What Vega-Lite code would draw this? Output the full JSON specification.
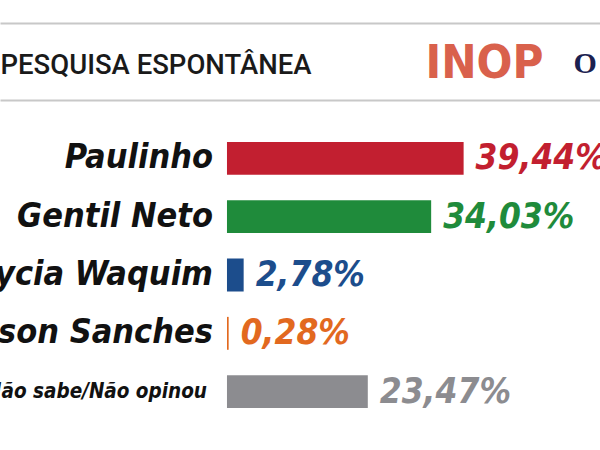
{
  "$schema": "https://vega.github.io/schema/vega-lite/v6.json",
  "width": 600,
  "height": 350,
  "autosize": {"type": "none"},
  "padding": {"left": 0, "top": 100, "right": 0, "bottom": 0},
  "background": "white",
  "config": {"view": {"stroke": null}},
  "data": {"values": [
    {"nome": "Paulinho", "valor": 39.44, "rotulo": "39,44%"},
    {"nome": "Gentil Neto", "valor": 34.03, "rotulo": "34,03%"},
    {"nome": "Lycia Waquim", "valor": 2.78, "rotulo": "2,78%"},
    {"nome": "Nilson Sanches", "valor": 0.28, "rotulo": "0,28%"},
    {"nome": "Não sabe/Não opinou", "valor": 23.47, "rotulo": "23,47%"}
  ]},
  "encoding": {
    "y": {"field": "nome", "type": "nominal", "sort": null, "scale": {"paddingInner": 0.436, "paddingOuter": 0.718}, "axis": null},
    "color": {"field": "nome", "type": "nominal", "legend": null,
      "scale": {"domain": ["Paulinho", "Gentil Neto", "Lycia Waquim", "Nilson Sanches", "Não sabe/Não opinou"],
                "range": ["#c21f30", "#1f8b3b", "#1c4d8c", "#e2691f", "#8c8c90"]}}
  },
  "layer": [
    {
      "mark": {"type": "bar"},
      "encoding": {
        "x": {"field": "valor", "type": "quantitative",
          "scale": {"domain": [-37.83, 62.17], "nice": false, "zero": false},
          "axis": {"orient": "top", "offset": 0, "domain": true, "domainColor": "#c8c8c8", "domainWidth": 2,
            "labels": false, "ticks": false, "grid": false,
            "title": "PESQUISA ESPONTÂNEA", "titleX": 0, "titleY": -27, "titleAlign": "left", "titleBaseline": "alphabetic", "titleAngle": 0,
            "titleFont": "Roboto", "titleFontSize": 27.5, "titleFontWeight": 500, "titleColor": "#1a1a1a"}}
      }
    },
    {
      "mark": {"type": "text", "align": "left", "baseline": "middle", "dx": 12, "font": "DejaVu Sans Condensed", "fontWeight": "bold", "fontStyle": "italic", "fontSize": 35},
      "encoding": {
        "x": {"field": "valor", "type": "quantitative",
          "axis": {"orient": "top", "offset": 77, "domain": true, "domainColor": "#c8c8c8", "domainWidth": 2,
            "labels": false, "ticks": false, "grid": false,
            "title": "INOP", "titleX": 425, "titleY": 54, "titleAlign": "left", "titleBaseline": "alphabetic", "titleAngle": 0,
            "titleFont": "DejaVu Sans Condensed, DejaVu Sans", "titleFontSize": 47, "titleFontWeight": "bold", "titleColor": "#d9614c"}},
        "text": {"field": "rotulo"}
      }
    },
    {
      "transform": [{"filter": "datum.nome !== 'Não sabe/Não opinou'"}],
      "mark": {"type": "text", "align": "right", "baseline": "middle", "dx": -14, "font": "DejaVu Sans Condensed", "fontWeight": "bold", "fontStyle": "italic", "fontSize": 34},
      "encoding": {
        "x": {"datum": 0, "type": "quantitative",
          "axis": {"orient": "top", "offset": 77, "domain": false, "labels": false, "ticks": false, "grid": false,
            "title": "O", "titleX": 573, "titleY": 49, "titleAlign": "left", "titleBaseline": "alphabetic", "titleAngle": 0,
            "titleFont": "Liberation Serif", "titleFontSize": 30, "titleFontWeight": "bold", "titleColor": "#1b2150"}},
        "text": {"field": "nome"},
        "color": {"value": "#111111"}
      }
    },
    {
      "transform": [{"filter": "datum.nome === 'Não sabe/Não opinou'"}],
      "mark": {"type": "text", "align": "right", "baseline": "middle", "dx": -20, "font": "DejaVu Sans Condensed", "fontWeight": "bold", "fontStyle": "italic", "fontSize": 20.5},
      "encoding": {
        "x": {"datum": 0, "type": "quantitative", "axis": null},
        "text": {"field": "nome"},
        "color": {"value": "#111111"}
      }
    }
  ],
  "resolve": {"axis": {"x": "independent"}}
}
